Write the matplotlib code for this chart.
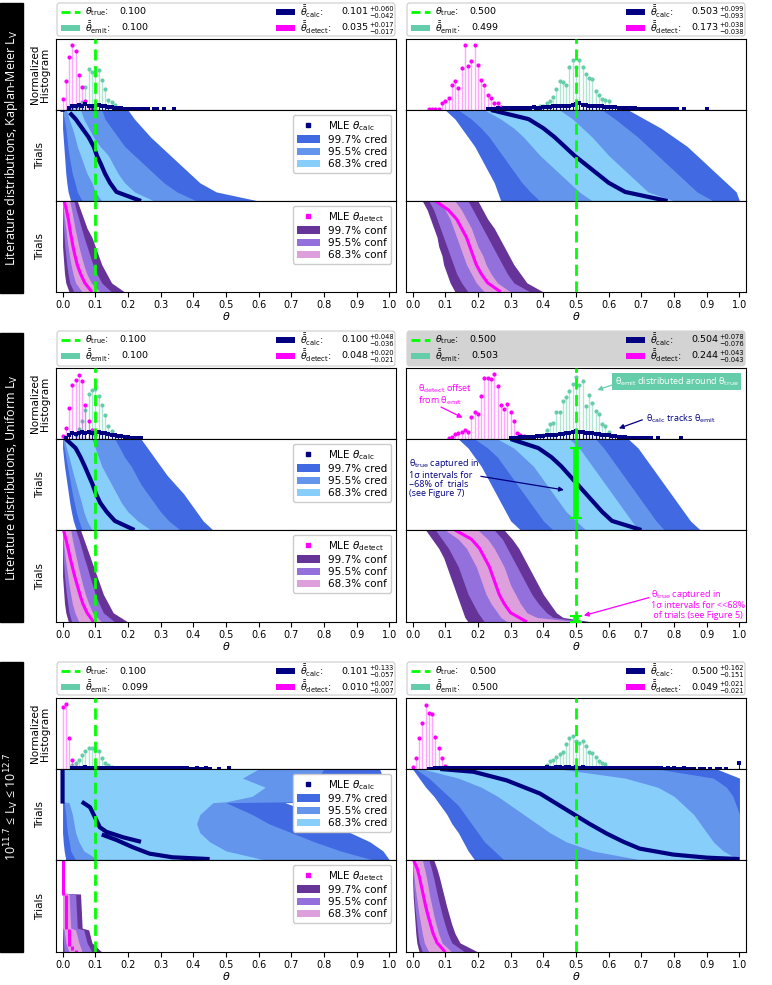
import numpy as np
import matplotlib
matplotlib.use('Agg')
import matplotlib.pyplot as plt
from matplotlib.lines import Line2D
from matplotlib.patches import Patch, Rectangle, FancyBboxPatch

plt.rcParams['font.family'] = ['DejaVu Sans']
plt.rcParams['font.size'] = 7.5
plt.rcParams['mathtext.fontset'] = 'dejavusans'

nan = np.nan
BIN = 0.01
F11 = [0.0, 0.1, 0.2, 0.3, 0.4, 0.5, 0.6, 0.7, 0.8, 0.9, 1.0]

# ---------------- data ----------------
# legend values: true, emit, calc, +, -, detect, +, -
# band columns: lo99, lo95, lo68, hi68, hi95, hi99

# Kaplan-Meier, theta_true = 0.1
KM1_LEGEND = ['0.100', '0.100', '0.101', '+0.060', '\u22120.042', '0.035', '+0.017', '\u22120.017']
KM1_DET_HIST = (0.00, [0.15, 0.415, 0.745, 0.92, 0.835, 0.495, 0.32, 0.13, 0.05, 0.02])
KM1_EMIT_HIST = (0.03, [0.02, 0.04, 0.05, 0.11, 0.33, 0.58, 0.53, 0.495, 0.56, 0.42, 0.30, 0.14, 0.11, 0.07, 0.03, 0.01])
KM1_CALC_HIST = (0.02, [0.03, 0.06, 0.05, 0.07, 0.05, 0.08, 0.06, 0.05, 0.06, 0.07, 0.05, 0.05, 0.04, 0.04, 0.03,
                        0.03, 0.03, 0.02, 0.02, 0.02, 0.02, 0.02, 0.01, 0.015, 0.01, 0.0, 0.01, 0.01, 0.0, 0.01,
                        0.0, 0.0, 0.01])
KM1_CALC_F = F11
KM1_CALC_BANDS = [
    [0.0, 0.0, 0.0, 0.002, 0.004, 0.006, 0.008, 0.01, 0.013, 0.017, 0.025],
    [0.0, 0.005, 0.01, 0.013, 0.016, 0.02, 0.025, 0.03, 0.038, 0.045, 0.06],
    [0.012, 0.02, 0.03, 0.038, 0.045, 0.055, 0.065, 0.075, 0.09, 0.10, 0.12],
    [0.055, 0.065, 0.08, 0.095, 0.115, 0.14, 0.155, 0.17, 0.19, 0.22, 0.28],
    [0.12, 0.13, 0.15, 0.17, 0.19, 0.22, 0.25, 0.28, 0.31, 0.35, 0.41],
    [0.20, 0.22, 0.245, 0.27, 0.30, 0.33, 0.36, 0.39, 0.42, 0.47, 0.60],
]
KM1_CALC_MLE_F = [0.0, 0.02, nan, 0.03, 0.1, 0.2, 0.3, 0.4, 0.5, 0.6, 0.7, 0.8, 0.9, 1.0]
KM1_CALC_MLE = [0.0, 0.0, nan, 0.022, 0.04, 0.06, 0.08, 0.095, 0.105, 0.118, 0.13, 0.145, 0.165, 0.24]
KM1_DET_F = F11
KM1_DET_BANDS = [
    [0, 0, 0, 0, 0, 0, 0.002, 0.004, 0.006, 0.01, 0.02],
    [0, 0, 0.001, 0.003, 0.005, 0.007, 0.01, 0.013, 0.017, 0.022, 0.035],
    [0.0, 0.003, 0.006, 0.01, 0.013, 0.017, 0.021, 0.026, 0.032, 0.04, 0.06],
    [0.022, 0.028, 0.033, 0.038, 0.044, 0.05, 0.057, 0.065, 0.074, 0.088, 0.115],
    [0.035, 0.042, 0.05, 0.058, 0.066, 0.075, 0.084, 0.093, 0.105, 0.12, 0.15],
    [0.045, 0.055, 0.065, 0.075, 0.09, 0.10, 0.11, 0.12, 0.135, 0.15, 0.19],
]
KM1_DET_MLE_F = F11
KM1_DET_MLE = [0.005, 0.012, 0.018, 0.022, 0.027, 0.032, 0.038, 0.045, 0.055, 0.068, 0.09]

# Kaplan-Meier, theta_true = 0.5
KM5_LEGEND = ['0.500', '0.499', '0.503', '+0.099', '\u22120.093', '0.173', '+0.038', '\u22120.038']
KM5_DET_HIST = (0.05, [0.02, 0.02, 0.02, 0.02, 0.10, 0.12, 0.175, 0.35, 0.415, 0.31, 0.59, 0.91, 0.62, 0.69, 0.91,
                       0.63, 0.425, 0.35, 0.21, 0.165, 0.10, 0.095, 0.045, 0.02])
KM5_EMIT_HIST = (0.39, [0.055, 0.06, 0.095, 0.13, 0.19, 0.29, 0.415, 0.40, 0.35, 0.60, 0.70, 0.61, 0.70, 0.60,
                        0.51, 0.45, 0.43, 0.27, 0.21, 0.15, 0.14, 0.12])
KM5_CALC_HIST = (0.23, [0.02, 0.02, 0.02, 0.025, 0.02, 0.03, 0.025,
                        0.03, 0.03, 0.025, 0.035, 0.03, 0.03, 0.035, 0.04, 0.03, 0.035,
                        0.04, 0.045, 0.04, 0.05, 0.05, 0.055, 0.06, 0.05, 0.06, 0.07,
                        0.08, 0.10, 0.07, 0.065, 0.06, 0.06, 0.055, 0.05, 0.05, 0.045,
                        0.045, 0.04, 0.04, 0.035, 0.03, 0.03, 0.03, 0.025, 0.025, 0.02,
                        0.02, 0.02, 0.02, 0.015, 0.015, 0.015, 0.01, 0.01, 0.015, 0.01,
                        0.01, 0.01, 0.0, 0.01, 0.0, 0.0, 0.0, 0.0, 0.0, 0.0, 0.01])
KM5_CALC_F = F11
KM5_CALC_BANDS = [
    [0.10, 0.13, 0.15, 0.17, 0.19, 0.205, 0.22, 0.235, 0.25, 0.26, 0.27],
    [0.14, 0.18, 0.21, 0.235, 0.255, 0.275, 0.295, 0.315, 0.335, 0.36, 0.39],
    [0.22, 0.27, 0.31, 0.34, 0.365, 0.39, 0.42, 0.45, 0.48, 0.51, 0.55],
    [0.45, 0.49, 0.52, 0.55, 0.575, 0.60, 0.63, 0.66, 0.69, 0.72, 0.80],
    [0.58, 0.62, 0.655, 0.69, 0.72, 0.75, 0.78, 0.81, 0.84, 0.87, 0.92],
    [0.66, 0.71, 0.76, 0.80, 0.84, 0.87, 0.90, 0.93, 0.96, 0.99, 1.0],
]
KM5_CALC_MLE_F = F11
KM5_CALC_MLE = [0.24, 0.355, 0.40, 0.435, 0.465, 0.495, 0.53, 0.565, 0.60, 0.65, 0.78]
KM5_DET_F = F11
KM5_DET_BANDS = [
    [0.03, 0.045, 0.055, 0.065, 0.075, 0.08, 0.09, 0.095, 0.105, 0.115, 0.13],
    [0.05, 0.065, 0.075, 0.085, 0.095, 0.105, 0.115, 0.125, 0.135, 0.15, 0.17],
    [0.08, 0.10, 0.115, 0.125, 0.135, 0.145, 0.155, 0.165, 0.18, 0.195, 0.22],
    [0.13, 0.15, 0.165, 0.18, 0.19, 0.20, 0.215, 0.225, 0.24, 0.26, 0.30],
    [0.17, 0.185, 0.20, 0.215, 0.23, 0.245, 0.26, 0.275, 0.29, 0.31, 0.36],
    [0.20, 0.215, 0.23, 0.25, 0.265, 0.28, 0.295, 0.31, 0.33, 0.35, 0.40],
]
KM5_DET_MLE_F = F11
KM5_DET_MLE = [0.07, 0.11, 0.135, 0.15, 0.165, 0.175, 0.185, 0.195, 0.21, 0.23, 0.27]

# Uniform, theta_true = 0.1
UN1_LEGEND = ['0.100', '0.100', '0.100', '+0.048', '\u22120.036', '0.048', '+0.020', '\u22120.021']
UN1_DET_HIST = (0.00, [0.04, 0.155, 0.435, 0.765, 0.835, 0.905, 0.81, 0.48, 0.25, 0.12, 0.06])
UN1_EMIT_HIST = (0.04, [0.05, 0.14, 0.25, 0.41, 0.63, 0.695, 0.70, 0.60, 0.48, 0.34, 0.18, 0.11, 0.06])
UN1_CALC_HIST = (0.01, [0.02, 0.06, 0.08, 0.07, 0.09, 0.10, 0.08, 0.10, 0.09, 0.09, 0.10, 0.08, 0.08, 0.07,
                        0.06, 0.05, 0.04, 0.04, 0.03, 0.03, 0.02, 0.02, 0.01, 0.02])
UN1_CALC_F = F11
UN1_CALC_BANDS = [
    [0.0, 0.0, 0.003, 0.006, 0.01, 0.014, 0.018, 0.022, 0.027, 0.033, 0.042],
    [0.0, 0.005, 0.01, 0.015, 0.02, 0.025, 0.03, 0.036, 0.042, 0.05, 0.06],
    [0.005, 0.012, 0.02, 0.027, 0.034, 0.042, 0.05, 0.058, 0.065, 0.075, 0.09],
    [0.09, 0.10, 0.11, 0.12, 0.135, 0.15, 0.165, 0.18, 0.20, 0.23, 0.27],
    [0.16, 0.175, 0.19, 0.21, 0.225, 0.24, 0.26, 0.28, 0.30, 0.325, 0.36],
    [0.24, 0.26, 0.28, 0.30, 0.32, 0.345, 0.37, 0.39, 0.41, 0.43, 0.46],
]
UN1_CALC_MLE_F = F11
UN1_CALC_MLE = [0.01, 0.04, 0.055, 0.068, 0.08, 0.092, 0.102, 0.115, 0.135, 0.16, 0.22]
UN1_DET_F = F11
UN1_DET_BANDS = [
    [0, 0, 0, 0, 0, 0, 0.002, 0.004, 0.006, 0.01, 0.018],
    [0, 0, 0.001, 0.002, 0.004, 0.006, 0.009, 0.012, 0.016, 0.02, 0.028],
    [0.0, 0.002, 0.005, 0.008, 0.012, 0.016, 0.02, 0.025, 0.03, 0.038, 0.05],
    [0.025, 0.03, 0.036, 0.042, 0.048, 0.055, 0.062, 0.07, 0.08, 0.092, 0.12],
    [0.04, 0.05, 0.058, 0.066, 0.075, 0.083, 0.092, 0.10, 0.112, 0.125, 0.16],
    [0.055, 0.065, 0.075, 0.085, 0.095, 0.105, 0.115, 0.125, 0.14, 0.155, 0.20],
]
UN1_DET_MLE_F = F11
UN1_DET_MLE = [0.003, 0.01, 0.017, 0.023, 0.03, 0.037, 0.045, 0.053, 0.062, 0.075, 0.095]

# Uniform, theta_true = 0.5
UN5_LEGEND = ['0.500', '0.503', '0.504', '+0.078', '\u22120.076', '0.244', '+0.043', '\u22120.043']
UN5_DET_HIST = (0.11, [0.02, 0.03, 0.07, 0.085, 0.10, 0.13, 0.10, 0.31, 0.385, 0.35, 0.60, 0.86, 0.86, 0.845,
                       0.92, 0.75, 0.48, 0.42, 0.49, 0.385, 0.25, 0.085, 0.05, 0.04, 0.03])
UN5_EMIT_HIST = (0.40, [0.05, 0.12, 0.205, 0.22, 0.385, 0.385, 0.53, 0.595, 0.68, 0.775, 0.88, 0.76, 0.82,
                        0.46, 0.62, 0.505, 0.395, 0.35, 0.205, 0.18, 0.10])
UN5_CALC_HIST = (0.30, [0.02, 0.02, 0.02, 0.025, 0.03, 0.03, 0.03, 0.035, 0.04, 0.04,
                        0.045, 0.05, 0.05, 0.06, 0.06, 0.07, 0.075, 0.08, 0.09, 0.10,
                        0.11, 0.10, 0.10, 0.09, 0.09, 0.08, 0.075, 0.07, 0.06, 0.06,
                        0.05, 0.045, 0.04, 0.035, 0.03, 0.025, 0.02, 0.02, 0.015, 0.015,
                        0.01, 0.01, 0.01, 0.01, 0.0, 0.01, 0.0, 0.0, 0.0, 0.0,
                        0.0, 0.0, 0.01])
UN5_CALC_F = F11
UN5_CALC_BANDS = [
    [0.14, 0.17, 0.19, 0.21, 0.225, 0.24, 0.255, 0.27, 0.285, 0.30, 0.33],
    [0.19, 0.23, 0.26, 0.28, 0.30, 0.32, 0.34, 0.36, 0.38, 0.40, 0.43],
    [0.26, 0.31, 0.34, 0.37, 0.39, 0.41, 0.43, 0.45, 0.47, 0.50, 0.53],
    [0.48, 0.51, 0.53, 0.55, 0.57, 0.59, 0.61, 0.63, 0.65, 0.67, 0.69],
    [0.56, 0.585, 0.605, 0.625, 0.645, 0.665, 0.685, 0.705, 0.725, 0.745, 0.77],
    [0.66, 0.69, 0.71, 0.73, 0.75, 0.77, 0.79, 0.81, 0.83, 0.85, 0.88],
]
UN5_CALC_MLE_F = F11
UN5_CALC_MLE = [0.30, 0.385, 0.425, 0.455, 0.48, 0.505, 0.53, 0.555, 0.58, 0.61, 0.70]
UN5_DET_F = [0.0, 0.1, 0.2, 0.3, 0.4, 0.5, 0.6, 0.7, 0.8, 0.9, 0.95, 1.0]
UN5_DET_BANDS = [
    [0.04, 0.06, 0.08, 0.095, 0.105, 0.115, 0.125, 0.135, 0.145, 0.155, 0.16, 0.17],
    [0.07, 0.09, 0.11, 0.125, 0.14, 0.15, 0.16, 0.17, 0.185, 0.20, 0.21, 0.22],
    [0.10, 0.14, 0.165, 0.18, 0.195, 0.205, 0.215, 0.225, 0.24, 0.26, 0.27, 0.29],
    [0.20, 0.23, 0.25, 0.265, 0.28, 0.29, 0.30, 0.315, 0.33, 0.35, 0.38, 0.51],
    [0.25, 0.275, 0.29, 0.305, 0.32, 0.335, 0.35, 0.365, 0.385, 0.41, 0.43, 0.53],
    [0.28, 0.305, 0.325, 0.34, 0.355, 0.37, 0.385, 0.40, 0.42, 0.44, 0.46, 0.55],
]
UN5_DET_MLE_F = F11
UN5_DET_MLE = [0.13, 0.18, 0.205, 0.22, 0.235, 0.245, 0.255, 0.265, 0.28, 0.30, 0.35]

# 10^11.7 <= Lv <= 10^12.7, theta_true = 0.1
LV1_LEGEND = ['0.100', '0.099', '0.101', '+0.133', '\u22120.057', '0.010', '+0.007', '\u22120.007']
LV1_DET_HIST = (0.00, [0.88, 0.915, 0.435, 0.12, 0.035])
LV1_EMIT_HIST = (0.03, [0.05, 0.08, 0.12, 0.20, 0.26, 0.30, 0.30, 0.27, 0.26, 0.16, 0.09, 0.05, 0.03])
LV1_CALC_HIST = (0.03, [0.01, 0.015, 0.02, 0.02, 0.025, 0.02, 0.02, 0.02, 0.02, 0.02,
                        0.02, 0.015, 0.015, 0.015, 0.015, 0.015, 0.015, 0.01, 0.01, 0.015,
                        0.01, 0.01, 0.01, 0.01, 0.01, 0.01, 0.01, 0.01, 0.01, 0.01,
                        0.01, 0.01, 0.01, 0.01, 0.01, 0.01, 0.005, 0.005, 0.01, 0.005,
                        0.005, 0.01, 0.005, 0.0, 0.0, 0.005, 0.0, 0.0, 0.01])
LV1_CALC_F = [0.0, 0.1, 0.2, 0.3, 0.36, 0.37, 0.5, 0.6, 0.7, 0.8, 0.9, 1.0]
LV1_CALC_BANDS = [
    [0, 0, 0, 0, 0, 0, 0, 0, 0, 0.002, 0.005, 0.01],
    [0, 0, 0, 0, 0, 0.005, 0.01, 0.012, 0.015, 0.02, 0.025, 0.04],
    [0, 0, 0, 0, 0, 0.02, 0.03, 0.035, 0.04, 0.05, 0.065, 0.11],
    [0.60, 0.55, 0.62, 0.58, 0.50, 0.46, 0.42, 0.41, 0.42, 0.45, 0.50, 0.62],
    [0.80, 0.78, 0.82, 0.76, 0.70, 0.50, 0.58, 0.63, 0.70, 0.77, 0.85, 0.95],
    [0.97, 0.98, 0.96, 0.97, 0.95, 0.68, 0.78, 0.82, 0.88, 0.94, 0.98, 1.0],
]
LV1_CALC_MLE_F = [0.0, 0.38, nan, 0.36, 0.42, 0.53, 0.64, 0.69, 0.75, 0.80, nan,
                  0.72, 0.78, 0.86, 0.93, 0.97, 0.99]
LV1_CALC_MLE = [0.0, 0.0, nan, 0.059, 0.084, 0.099, 0.114, 0.134, 0.185, 0.24, nan,
                0.12, 0.165, 0.215, 0.266, 0.336, 0.45]
LV1_DET_F = [0.0, 0.36, 0.37, 0.74, 0.76, 0.9, 1.0]
LV1_DET_BANDS = [
    [0, 0, 0, 0, 0, 0, 0],
    [0, 0, 0, 0, 0, 0.003, 0.005],
    [0, 0, 0, 0, 0.005, 0.01, 0.02],
    [0, 0, 0.02, 0.025, 0.04, 0.05, 0.06],
    [0, 0, 0.04, 0.045, 0.065, 0.075, 0.09],
    [0, 0, 0.055, 0.06, 0.08, 0.09, 0.12],
]
LV1_DET_MLE_F = [0.0, 0.38, nan, 0.38, 0.75, nan, 0.75, 0.93, nan, 0.93, 0.98, nan, 0.98, 1.0]
LV1_DET_MLE = [0.0, 0.0, nan, 0.01, 0.01, nan, 0.02, 0.02, nan, 0.03, 0.03, nan, 0.04, 0.04]

# 10^11.7 <= Lv <= 10^12.7, theta_true = 0.5
LV5_LEGEND = ['0.500', '0.500', '0.500', '+0.162', '\u22120.151', '0.049', '+0.021', '\u22120.021']
LV5_DET_HIST = (0.00, [0.035, 0.15, 0.435, 0.645, 0.905, 0.795, 0.775, 0.445, 0.29, 0.15, 0.04, 0.02])
LV5_EMIT_HIST = (0.41, [0.055, 0.11, 0.125, 0.17, 0.21, 0.245, 0.35, 0.435, 0.465, 0.40, 0.36, 0.395, 0.33,
                        0.245, 0.22, 0.175, 0.11, 0.09, 0.065])
LV5_CALC_HIST = (0.05, [0.005, 0.005, 0.01, 0.01, 0.01, 0.01, 0.01, 0.01, 0.01, 0.01,
                        0.01, 0.01, 0.01, 0.015, 0.01, 0.01, 0.015, 0.01, 0.015, 0.01,
                        0.015, 0.015, 0.01, 0.015, 0.015, 0.015, 0.02, 0.015, 0.015, 0.02,
                        0.02, 0.015, 0.02, 0.02, 0.02, 0.02, 0.025, 0.02, 0.02, 0.025,
                        0.025, 0.02, 0.025, 0.025, 0.02, 0.025, 0.02, 0.025, 0.02, 0.02,
                        0.02, 0.02, 0.02, 0.015, 0.02, 0.015, 0.015, 0.015, 0.015, 0.01,
                        0.015, 0.01, 0.01, 0.01, 0.01, 0.01, 0.01, 0.01, 0.01, 0.01,
                        0.01, 0.01, 0.005, 0.01, 0.005, 0.01, 0.005, 0.005, 0.01, 0.005,
                        0.005, 0.005, 0.0, 0.005, 0.005, 0.0, 0.005, 0.0, 0.005, 0.005,
                        0.0, 0.005, 0.0, 0.0, 0.0, 0.08])
LV5_CALC_F = F11
LV5_CALC_BANDS = [
    [0.0, 0.02, 0.04, 0.065, 0.085, 0.105, 0.12, 0.14, 0.155, 0.17, 0.19],
    [0.01, 0.05, 0.08, 0.11, 0.14, 0.16, 0.18, 0.20, 0.22, 0.25, 0.28],
    [0.03, 0.14, 0.21, 0.26, 0.30, 0.34, 0.38, 0.42, 0.47, 0.55, 0.70],
    [0.45, 0.65, 0.75, 0.80, 0.83, 0.86, 0.88, 0.90, 0.92, 0.95, 1.0],
    [0.75, 0.92, 0.96, 0.98, 0.99, 1.0, 1.0, 1.0, 1.0, 1.0, 1.0],
    [0.93, 1.0, 1.0, 1.0, 1.0, 1.0, 1.0, 1.0, 1.0, 1.0, 1.0],
]
LV5_CALC_MLE_F = [0.0, 0.03, 0.125, 0.27, 0.38, 0.49, 0.60, 0.71, 0.80, 0.875, 0.94, 0.974, 0.99]
LV5_CALC_MLE = [0.085, 0.186, 0.288, 0.39, 0.44, 0.49, 0.54, 0.594, 0.645, 0.695, 0.797, 0.90, 1.0]
LV5_DET_F = F11
LV5_DET_BANDS = [
    [0, 0, 0, 0.001, 0.002, 0.004, 0.006, 0.008, 0.01, 0.013, 0.02],
    [0, 0, 0.001, 0.003, 0.005, 0.007, 0.01, 0.013, 0.016, 0.02, 0.03],
    [0.0, 0.002, 0.005, 0.008, 0.012, 0.016, 0.02, 0.025, 0.03, 0.036, 0.05],
    [0.03, 0.037, 0.043, 0.048, 0.053, 0.059, 0.065, 0.072, 0.08, 0.09, 0.12],
    [0.05, 0.058, 0.065, 0.071, 0.077, 0.084, 0.091, 0.099, 0.108, 0.12, 0.16],
    [0.065, 0.075, 0.083, 0.09, 0.097, 0.104, 0.112, 0.12, 0.13, 0.145, 0.20],
]
LV5_DET_MLE_F = F11
LV5_DET_MLE = [0.003, 0.015, 0.022, 0.028, 0.034, 0.04, 0.047, 0.055, 0.063, 0.075, 0.10]

GROUP_LABELS = [r'Literature distributions, Kaplan-Meier L$_{\rm V}$',
                r'Literature distributions, Uniform L$_{\rm V}$',
                r'10$^{11.7}$ ≤ L$_{\rm V}$ ≤ 10$^{12.7}$']

PANELS = [
    [(0.1, KM1_LEGEND, KM1_DET_HIST, KM1_EMIT_HIST, KM1_CALC_HIST, KM1_CALC_F, KM1_CALC_BANDS,
      KM1_CALC_MLE_F, KM1_CALC_MLE, KM1_DET_F, KM1_DET_BANDS, KM1_DET_MLE_F, KM1_DET_MLE),
     (0.5, KM5_LEGEND, KM5_DET_HIST, KM5_EMIT_HIST, KM5_CALC_HIST, KM5_CALC_F, KM5_CALC_BANDS,
      KM5_CALC_MLE_F, KM5_CALC_MLE, KM5_DET_F, KM5_DET_BANDS, KM5_DET_MLE_F, KM5_DET_MLE)],
    [(0.1, UN1_LEGEND, UN1_DET_HIST, UN1_EMIT_HIST, UN1_CALC_HIST, UN1_CALC_F, UN1_CALC_BANDS,
      UN1_CALC_MLE_F, UN1_CALC_MLE, UN1_DET_F, UN1_DET_BANDS, UN1_DET_MLE_F, UN1_DET_MLE),
     (0.5, UN5_LEGEND, UN5_DET_HIST, UN5_EMIT_HIST, UN5_CALC_HIST, UN5_CALC_F, UN5_CALC_BANDS,
      UN5_CALC_MLE_F, UN5_CALC_MLE, UN5_DET_F, UN5_DET_BANDS, UN5_DET_MLE_F, UN5_DET_MLE)],
    [(0.1, LV1_LEGEND, LV1_DET_HIST, LV1_EMIT_HIST, LV1_CALC_HIST, LV1_CALC_F, LV1_CALC_BANDS,
      LV1_CALC_MLE_F, LV1_CALC_MLE, LV1_DET_F, LV1_DET_BANDS, LV1_DET_MLE_F, LV1_DET_MLE),
     (0.5, LV5_LEGEND, LV5_DET_HIST, LV5_EMIT_HIST, LV5_CALC_HIST, LV5_CALC_F, LV5_CALC_BANDS,
      LV5_CALC_MLE_F, LV5_CALC_MLE, LV5_DET_F, LV5_DET_BANDS, LV5_DET_MLE_F, LV5_DET_MLE)],
]

# colours
C_TRUE = 'lime'
C_EMIT = 'mediumaquamarine'
C_CALC = 'navy'
C_DET = 'magenta'
CRED = ['royalblue', 'cornflowerblue', 'lightskyblue']
CONF = ['rebeccapurple', 'mediumpurple', 'plum']
ANN_FONT = ['Open Sans', 'DejaVu Sans']

# ---------------- layout in pixels ----------------
W, H = 772, 985
COLS = [(56, 396), (406, 746)]
# legend top/bottom, hist top, trials1 top, trials2 top, bottom
ROWS = [(3, 36, 39, 110, 201, 292),
        (331, 366, 368, 439, 530, 622),
        (662, 695, 698, 769, 860, 952)]
BARS = [(3, 293), (333, 622), (662, 952)]

fig = plt.figure(figsize=(W / 100, H / 100), dpi=100)
TF = fig.transFigure


def pix(x0, y0, x1, y1):
    return [x0 / W, 1 - y1 / H, (x1 - x0) / W, (y1 - y0) / H]


def fx(x):
    return x / W


def fy(y):
    return 1 - y / H


def draw_hist(ax, hist, stem_c, stem_a, mk_c, marker, ms, lw=1.0):
    x0, heights = hist
    h = np.array(heights)
    x = x0 + BIN * np.arange(len(h))
    keep = h > 0
    ax.vlines(x[keep], 0, h[keep], color=stem_c, alpha=stem_a, lw=lw)
    ax.plot(x[keep], h[keep], ls='none', marker=marker, color=mk_c, ms=ms, mew=0)


def draw_bands(ax, f, bands, colors):
    lo99, lo95, lo68, hi68, hi95, hi99 = bands
    ax.fill_betweenx(f, lo99, hi99, color=colors[0], lw=0)
    ax.fill_betweenx(f, lo95, hi95, color=colors[1], lw=0)
    ax.fill_betweenx(f, lo68, hi68, color=colors[2], lw=0)


def style_axis(ax, show_labels):
    ax.set_xlim(-0.02, 1.02)
    ax.set_xticks(np.arange(0, 1.01, 0.1))
    ax.set_yticks([])
    ax.tick_params(axis='x', labelsize=7, length=3.5, pad=2)
    if show_labels:
        ax.set_xticklabels(['%.1f' % t for t in np.arange(0, 1.01, 0.1)])
    else:
        ax.set_xticklabels([])


def top_legend(x0, x1, lt, lb, leg, highlight):
    # framed box above each histogram, laid out like a two-column legend
    fc = '#d3d3d3' if highlight else 'white'
    ec = '#d3d3d3' if highlight else '#cccccc'
    fig.add_artist(FancyBboxPatch((fx(x0 + 1), fy(lb)), (x1 - x0 - 2) / W, (lb - lt) / H,
                                  boxstyle='round,pad=0,rounding_size=0.003', transform=TF,
                                  fc=fc, ec=ec, lw=0.8))
    r1, r2 = lt + 9, lt + 25
    fs = 6.8
    # left column
    fig.add_artist(Line2D([fx(x0 + 5), fx(x0 + 24)], [fy(r1), fy(r1)], transform=TF,
                          color=C_TRUE, ls='--', lw=2, dashes=(3.2, 1.6)))
    fig.add_artist(Rectangle((fx(x0 + 5), fy(r2 + 3)), 19 / W, 6 / H, transform=TF,
                             fc=C_EMIT, ec='none'))
    fig.text(fx(x0 + 29), fy(r1), r'$\theta_{\rm true}$:', va='center', fontsize=fs)
    fig.text(fx(x0 + 63), fy(r1), leg[0], va='center', fontsize=fs)
    fig.text(fx(x0 + 29), fy(r2), r'$\bar{\bar{\theta}}_{\rm emit}$:', va='center', fontsize=fs)
    fig.text(fx(x0 + 65), fy(r2), leg[1], va='center', fontsize=fs)
    # right column
    xr = x1 - 120
    fig.add_artist(Rectangle((fx(xr), fy(r1 + 3)), 19 / W, 6 / H, transform=TF, fc=C_CALC, ec='none'))
    fig.add_artist(Rectangle((fx(xr), fy(r2 + 3)), 19 / W, 6 / H, transform=TF, fc=C_DET, ec='none'))
    fig.text(fx(xr + 24), fy(r1), r'$\bar{\bar{\theta}}_{\rm calc}$:', va='center', fontsize=fs)
    fig.text(fx(xr + 24), fy(r2), r'$\bar{\bar{\theta}}_{\rm detect}$:', va='center', fontsize=fs)
    for r, num, up, dn in ((r1, leg[2], leg[3], leg[4]), (r2, leg[5], leg[6], leg[7])):
        fig.text(fx(x1 - 28), fy(r), num, va='center', ha='right', fontsize=fs)
        fig.text(fx(x1 - 27), fy(r - 3.3), up, va='center', ha='left', fontsize=4.8)
        fig.text(fx(x1 - 27), fy(r + 3.6), dn, va='center', ha='left', fontsize=4.8)


axes_store = {}
for g, group in enumerate(PANELS):
    lt, lb, ht, t1, t2, bot = ROWS[g]
    for c, panel in enumerate(group):
        (true, leg, det_h, emit_h, calc_h, cf, cb, cmf, cm, df, db, dmf, dm) = panel
        x0, x1 = COLS[c]
        axh = fig.add_axes(pix(x0, ht, x1, t1))
        ax1 = fig.add_axes(pix(x0, t1, x1, t2))
        ax2 = fig.add_axes(pix(x0, t2, x1, bot))
        axes_store[(g, c)] = (axh, ax1, ax2)

        # histogram
        draw_hist(axh, emit_h, C_EMIT, 0.5, C_EMIT, 'o', 3.0)
        draw_hist(axh, det_h, C_DET, 0.35, C_DET, 'o', 3.0)
        draw_hist(axh, calc_h, C_CALC, 0.9, C_CALC, 's', 2.4, lw=0.8)
        axh.set_ylim(0, 1.0)

        # trials: calc
        draw_bands(ax1, cf, cb, CRED)
        ax1.plot(cm, cmf, color=C_CALC, lw=3.0, solid_capstyle='butt')
        ax1.set_ylim(1, 0)

        # trials: detect
        draw_bands(ax2, df, db, CONF)
        ax2.plot(dm, dmf, color=C_DET, lw=2.2, solid_capstyle='butt')
        ax2.set_ylim(1, 0)

        for a in (axh, ax1, ax2):
            a.axvline(true, color=C_TRUE, ls='--', lw=2, dashes=(4, 2), zorder=5)
            style_axis(a, a is ax2)
        ax2.set_xlabel(r'$\theta$', fontsize=8, labelpad=0)

        top_legend(x0, x1, lt, lb, leg, g == 1 and c == 1)

        if c == 0:
            axh.set_ylabel('Normalized\nHistogram', fontsize=7.5, labelpad=4, linespacing=1.0)
            ax1.set_ylabel('Trials', fontsize=7.5, labelpad=8)
            ax2.set_ylabel('Trials', fontsize=7.5, labelpad=8)
            h1 = [Line2D([0], [0], marker='s', ls='none', color=C_CALC, ms=2.5)] + \
                 [Patch(facecolor=cc, edgecolor='none') for cc in CRED]
            l1 = [r'MLE $\theta_{\rm calc}$', '99.7% cred', '95.5% cred', '68.3% cred']
            ax1.legend(h1, l1, loc='upper right', fontsize=7.5, handlelength=2.2, labelspacing=0.2,
                       borderpad=0.35, handletextpad=0.8, framealpha=1, edgecolor='#cccccc')
            h2 = [Line2D([0], [0], marker='s', ls='none', color=C_DET, ms=2.5)] + \
                 [Patch(facecolor=cc, edgecolor='none') for cc in CONF]
            l2 = [r'MLE $\theta_{\rm detect}$', '99.7% conf', '95.5% conf', '68.3% conf']
            ax2.legend(h2, l2, loc='upper right', fontsize=7.5, handlelength=2.2, labelspacing=0.2,
                       borderpad=0.35, handletextpad=0.8, framealpha=1, edgecolor='#cccccc')

    # black side bar with the group label
    y0, y1 = BARS[g]
    fig.patches.append(Rectangle((0, fy(y1)), 23 / W, (y1 - y0) / H,
                                 transform=TF, color='black', zorder=0))
    fig.text(fx(11.5), fy((y0 + y1) / 2), GROUP_LABELS[g], rotation=90, color='white',
             ha='center', va='center', fontsize=9, family=ANN_FONT)

# ---------------- annotations (uniform, theta = 0.5) ----------------
axh, ax1, ax2 = axes_store[(1, 1)]
arrow = dict(arrowstyle='-|>', lw=0.9, mutation_scale=7, shrinkA=0, shrinkB=0)

axh.text(0.017, 0.80, 'θ$_{\\rm detect}$ offset\nfrom θ$_{\\rm emit}$', color=C_DET, ha='left', va='top',
         fontsize=6.5, family=ANN_FONT, linespacing=1.0)
axh.annotate('', xy=(0.153, 0.30), xytext=(0.087, 0.45), arrowprops=dict(arrow, color=C_DET))
axh.text(0.808, 0.81, 'θ$_{\\rm emit}$ distributed around θ$_{\\rm true}$', color='white', ha='center',
         va='center', fontsize=6.5, family=ANN_FONT,
         bbox=dict(boxstyle='square,pad=0.3', fc=C_EMIT, ec='none'))
axh.annotate('', xy=(0.565, 0.69), xytext=(0.61, 0.76), arrowprops=dict(arrow, color=C_EMIT))
axh.text(0.713, 0.28, 'θ$_{\\rm calc}$ tracks θ$_{\\rm emit}$', color=C_CALC, ha='left', va='center',
         fontsize=6.5, family=ANN_FONT)
axh.annotate('', xy=(0.631, 0.15), xytext=(0.703, 0.27), arrowprops=dict(arrow, color=C_CALC))

ax1.errorbar([0.5], [(0.10 + 0.865) / 2], yerr=[(0.865 - 0.10) / 2], fmt='none', ecolor=C_TRUE,
             elinewidth=4, capsize=4, capthick=1.5, zorder=6)
ax1.text(-0.011, 0.20, 'θ$_{\\rm true}$ captured in\n1σ intervals for\n~68% of  trials\n(see Figure 7)',
         color=C_CALC, ha='left', va='top', fontsize=6.5, family=ANN_FONT, linespacing=1.05)
ax1.annotate('', xy=(0.463, 0.56), xytext=(0.209, 0.41), arrowprops=dict(arrow, color=C_CALC))

ax2.errorbar([0.5], [0.97], yerr=[0.03], fmt='none', ecolor=C_TRUE, elinewidth=4, capsize=4,
             capthick=1.5, zorder=6, clip_on=False)
ax2.text(0.728, 0.63, 'θ$_{\\rm true}$ captured in\n1σ intervals for <<68%\n of trials (see Figure 5)',
         color=C_DET, ha='left', va='top', fontsize=6.5, family=ANN_FONT, linespacing=1.05)
ax2.annotate('', xy=(0.524, 0.93), xytext=(0.723, 0.735), arrowprops=dict(arrow, color=C_DET))

plt.savefig('out.png', dpi=100)
